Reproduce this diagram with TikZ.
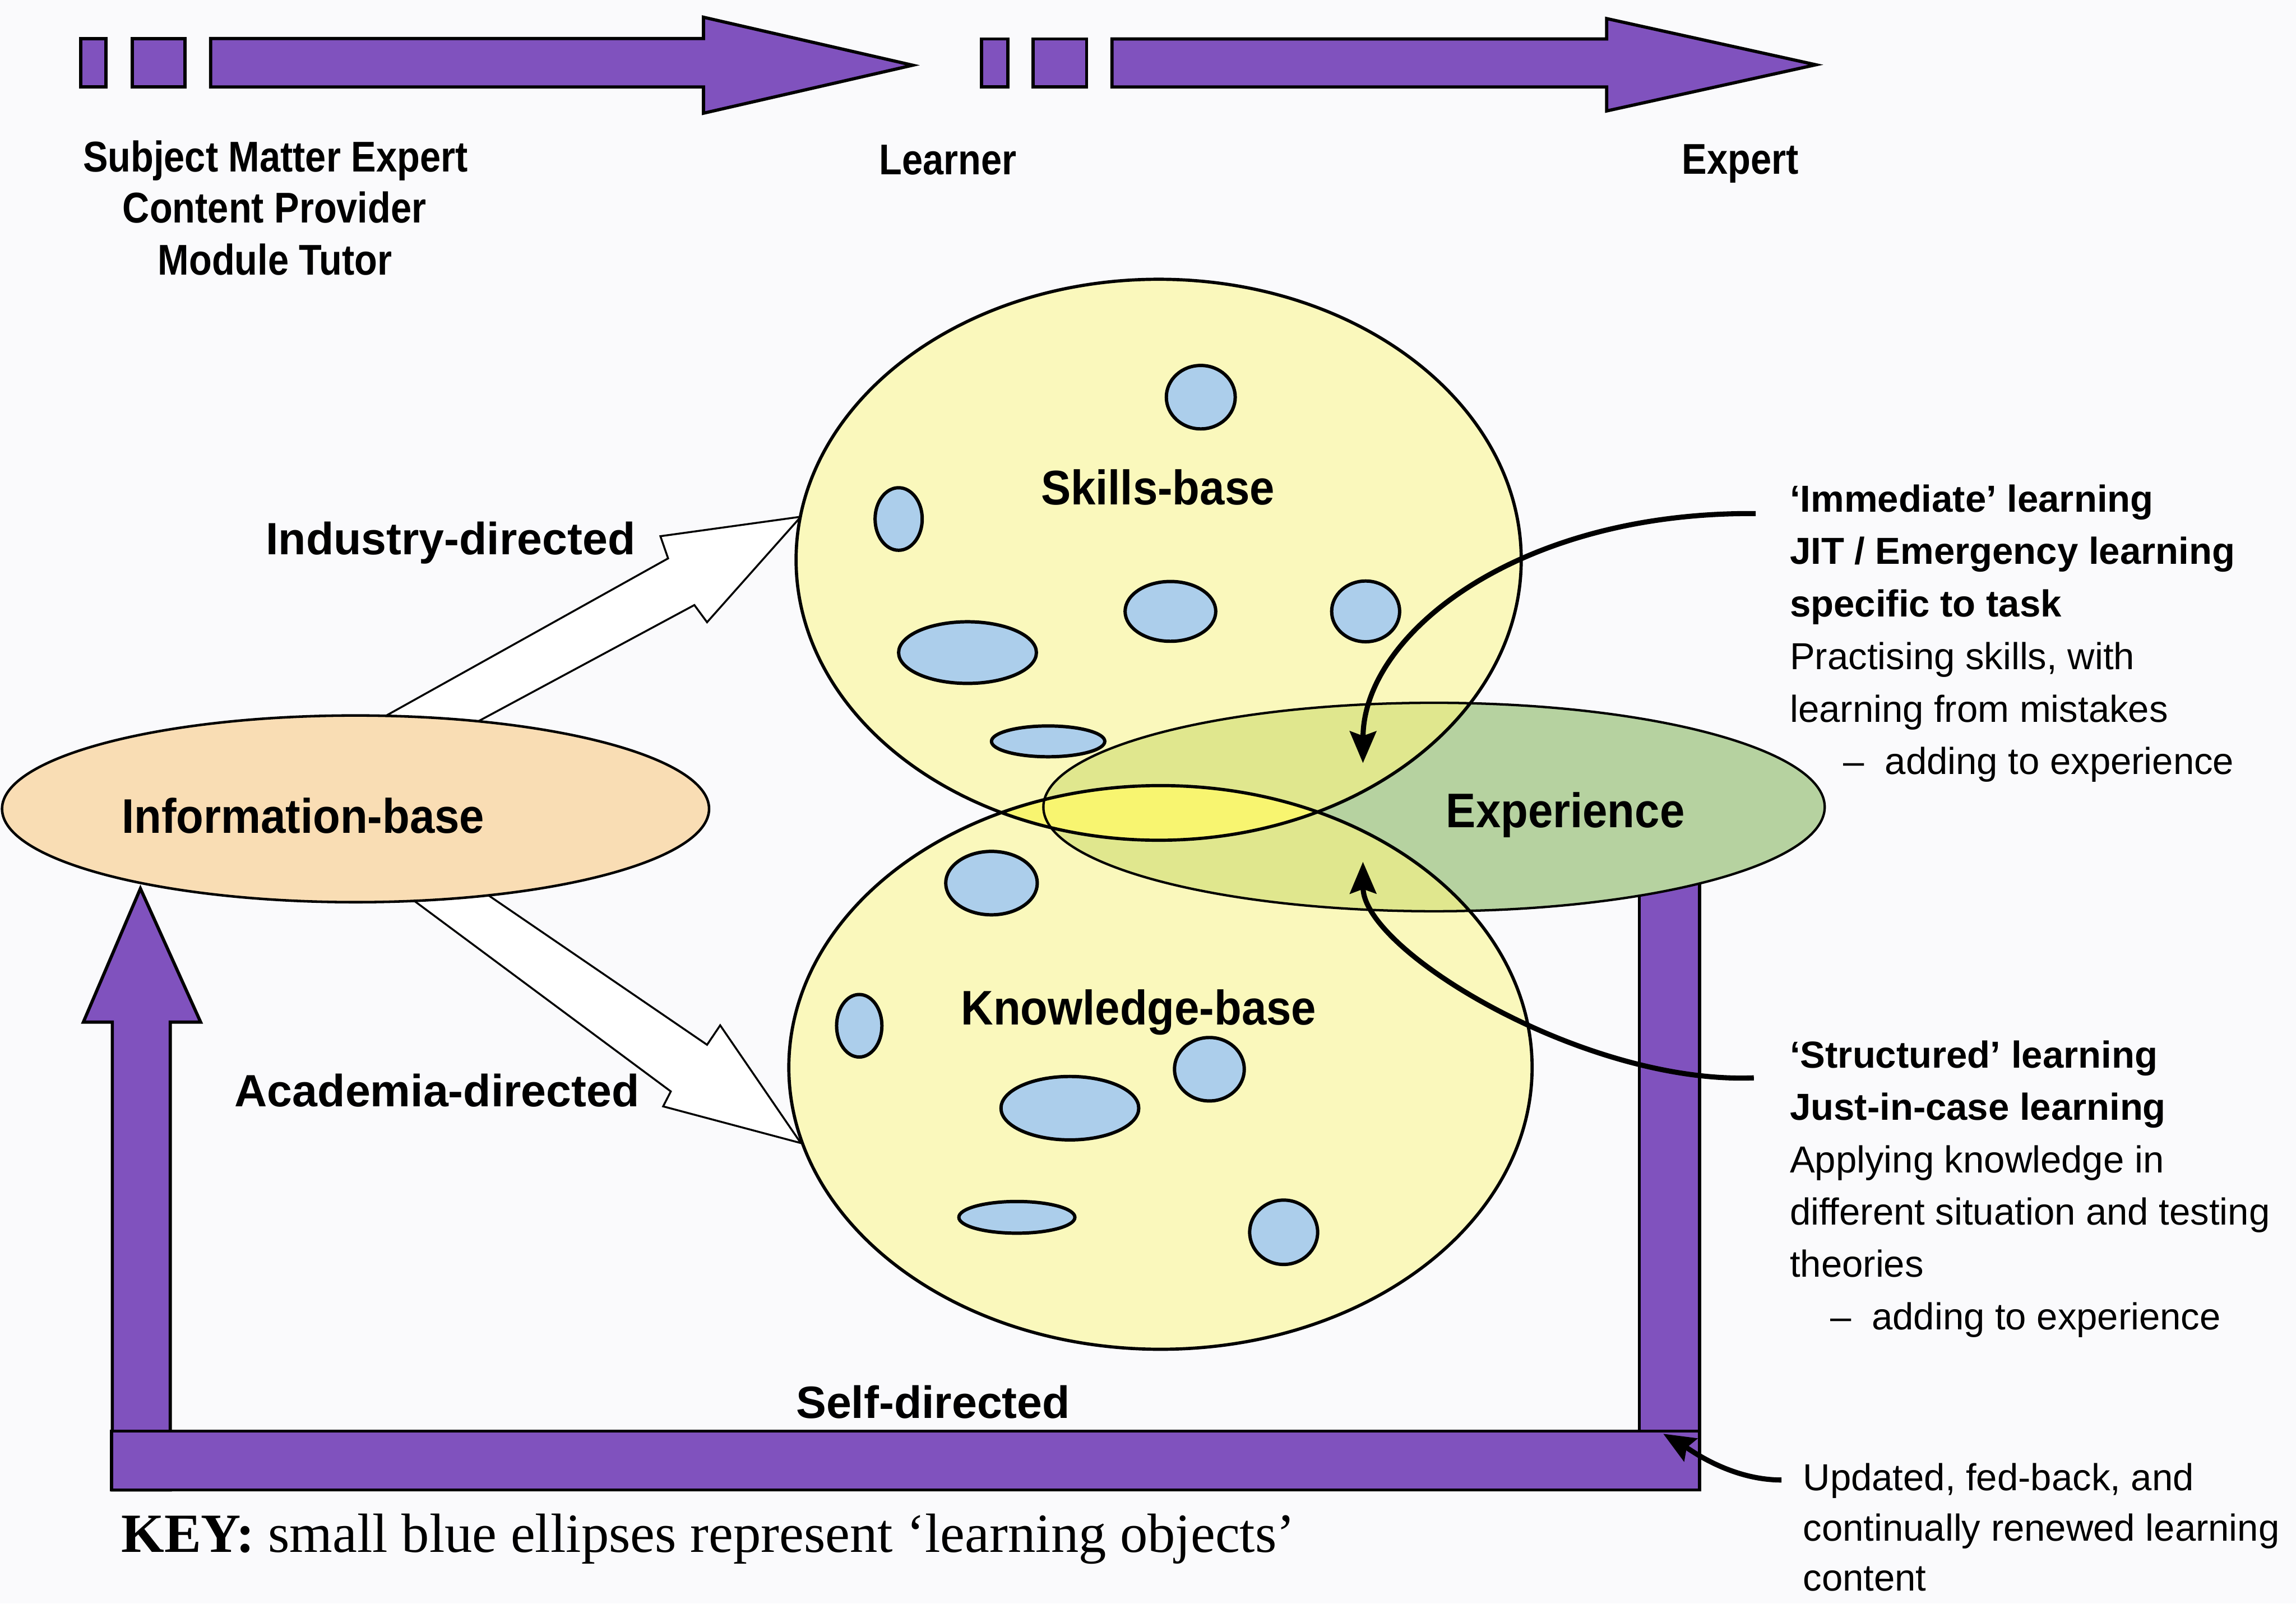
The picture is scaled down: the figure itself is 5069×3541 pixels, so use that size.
\documentclass[tikz,border=0pt]{standalone}
\usepackage{fontspec}
\setmainfont{Liberation Sans}
\newfontfamily\labelfont[FakeStretch=0.92]{Liberation Sans}
\newfontfamily\rolefont[FakeStretch=0.87]{Liberation Sans}
\newfontfamily\keyfont{Liberation Serif}
\usetikzlibrary{shapes.geometric,arrows.meta}

\definecolor{paper}{RGB}{250,250,252}
\definecolor{bandpurple}{RGB}{128,82,190}
\definecolor{paleyellow}{RGB}{250,248,188}
\definecolor{yellowgreen}{RGB}{224,231,142}
\definecolor{lensyellow}{RGB}{248,245,112}
\definecolor{expgreen}{RGB}{182,210,160}
\definecolor{peach}{RGB}{249,221,180}
\definecolor{objblue}{RGB}{172,206,235}

\begin{document}
\begin{tikzpicture}[x=0.01cm,y=-0.01cm,
  purpleshape/.style={fill=bandpurple, draw=black, line width=2pt, line join=miter},
  blockarrow/.style={fill=white, draw=black, line width=1.2pt, line join=miter},
  lobj/.style={fill=objblue, draw=black, line width=2.1pt},
  bigoval/.style={ellipse, inner sep=0pt, outer sep=0pt},
  curvearrow/.style={line width=3.2pt, -{Stealth[length=0.7cm, width=0.58cm, inset=0.1cm]}},
  biglabel/.style={font=\labelfont\bfseries\fontsize{30.5}{36}\selectfont, anchor=base, inner sep=0pt},
  rolelabel/.style={font=\rolefont\bfseries\fontsize{27}{32}\selectfont, anchor=base, inner sep=0pt},
  dirlabel/.style={font=\bfseries\fontsize{28.4}{33}\selectfont, anchor=base, inner sep=0pt},
  notebold/.style={font=\bfseries\fontsize{23.6}{28}\selectfont, anchor=base west, inner sep=0pt},
  noteplain/.style={font=\fontsize{23.6}{28}\selectfont, anchor=base west, inner sep=0pt}]

\useasboundingbox (0,0) rectangle (5069,3541);
\fill[paper] (0,0) rectangle (5069,3541);

% ---- role progression arrows along the top ----
\draw[purpleshape] (178,85) rectangle (234,192);
\draw[purpleshape] (292,85) rectangle (408,192);
\draw[purpleshape] (465,85) -- (1553,85) -- (1553,38) -- (2015,144) -- (1553,250) -- (1553,192) -- (465,192) -- cycle;
\draw[purpleshape] (2167,86) rectangle (2225,192);
\draw[purpleshape] (2281,86) rectangle (2399,192);
\draw[purpleshape] (2455,86) -- (3547,86) -- (3547,41) -- (4009,143) -- (3547,245) -- (3547,192) -- (2455,192) -- cycle;

\node[rolelabel] (sme)     at (608,379)  {Subject Matter Expert};
\node[rolelabel] (provider) at (606,492) {Content Provider};
\node[rolelabel] (tutor)   at (607,607)  {Module Tutor};
\node[rolelabel] (learner) at (2093,386) {Learner};
\node[rolelabel] (expert)  at (3842,384) {Expert};

% ---- self-directed feedback loop ----
\draw[purpleshape] (248,3290) -- (248,2257) -- (184,2257) -- (310,1962) -- (443,2257) -- (376,2257) -- (376,3290) -- cycle;
\draw[purpleshape] (3619,1900) rectangle (3752,3290);
\draw[purpleshape] (246,3160) rectangle (3752,3290);

% ---- open block arrows from the information-base ----
\draw[blockarrow] (826,1595) -- (1475,1233) -- (1458,1184) -- (1768,1141) -- (1561,1374) -- (1533,1336) -- (1033,1605) -- cycle;
\draw[blockarrow] (1052,1959) -- (1561,2307) -- (1590,2264) -- (1768,2524) -- (1464,2443) -- (1481,2410) -- (886,1968) -- cycle;

% ---- region fills ----
\fill[expgreen] (3166,1782) ellipse [x radius=8.62cm, y radius=2.30cm];
\fill[paleyellow] (2558,1236) ellipse [x radius=8.00cm, y radius=6.19cm];
\fill[paleyellow] (2562,2357) ellipse [x radius=8.20cm, y radius=6.22cm];
\begin{scope}
  \clip (3166,1782) ellipse [x radius=8.62cm, y radius=2.30cm];
  \fill[yellowgreen] (2558,1236) ellipse [x radius=8.00cm, y radius=6.19cm];
  \fill[yellowgreen] (2562,2357) ellipse [x radius=8.20cm, y radius=6.22cm];
\end{scope}
\begin{scope}
  \clip (2558,1236) ellipse [x radius=8.00cm, y radius=6.19cm];
  \fill[lensyellow] (2562,2357) ellipse [x radius=8.20cm, y radius=6.22cm];
\end{scope}

% ---- outlines of the main bases ----
\node[bigoval, draw=black, line width=1.5pt, minimum width=17.24cm, minimum height=4.60cm] (experience) at (3166,1782) {};
\node[bigoval, draw=black, line width=2pt, minimum width=16.00cm, minimum height=12.38cm] (skills) at (2558,1236) {};
\node[bigoval, draw=black, line width=2pt, minimum width=16.40cm, minimum height=12.44cm] (knowledge) at (2562,2357) {};
\node[bigoval, draw=black, fill=peach, line width=1.6pt, minimum width=15.60cm, minimum height=4.12cm] (info) at (785,1786) {};

% ---- learning objects ----
\draw[lobj] (2651,877)  ellipse [x radius=0.76cm, y radius=0.70cm];
\draw[lobj] (1984,1146) ellipse [x radius=0.52cm, y radius=0.69cm];
\draw[lobj] (2584,1350) ellipse [x radius=1.00cm, y radius=0.66cm];
\draw[lobj] (3015,1350) ellipse [x radius=0.75cm, y radius=0.67cm];
\draw[lobj] (2136,1441) ellipse [x radius=1.52cm, y radius=0.68cm];
\draw[lobj] (2314,1637) ellipse [x radius=1.25cm, y radius=0.34cm];
\draw[lobj] (2189,1950) ellipse [x radius=1.01cm, y radius=0.70cm];
\draw[lobj] (1897,2265) ellipse [x radius=0.50cm, y radius=0.69cm];
\draw[lobj] (2670,2361) ellipse [x radius=0.77cm, y radius=0.70cm];
\draw[lobj] (2362,2447) ellipse [x radius=1.52cm, y radius=0.70cm];
\draw[lobj] (2245,2688) ellipse [x radius=1.28cm, y radius=0.35cm];
\draw[lobj] (2834,2721) ellipse [x radius=0.75cm, y radius=0.71cm];

% ---- base labels ----
\node[biglabel] (skillslabel) at (2556,1114) {Skills-base};
\node[biglabel] (knowlabel)   at (2514,2263) {Knowledge-base};
\node[biglabel] (explabel)    at (3456,1827) {Experience};
\node[biglabel] (infolabel)   at (669,1840)  {Information-base};

\node[dirlabel] (industry) at (995,1225) {Industry-directed};
\node[dirlabel] (academia) at (965,2443) {Academia-directed};
\node[dirlabel] (selfdir)  at (2060,3131) {Self-directed};

% ---- side notes ----
\node[notebold]  (imm1) at (3951,1130) {‘Immediate’ learning};
\node[notebold]  (imm2) at (3951,1246) {JIT / Emergency learning};
\node[notebold]  (imm3) at (3951,1362) {specific to task};
\node[noteplain] (imm4) at (3951,1478) {Practising skills, with};
\node[noteplain] (imm5) at (3951,1594) {learning from mistakes};
\node[noteplain] (imm6) at (4069,1710) {–\hspace{0.55em}adding to experience};

\node[notebold]  (str1) at (3951,2358) {‘Structured’ learning};
\node[notebold]  (str2) at (3951,2473) {Just-in-case learning};
\node[noteplain] (str3) at (3951,2589) {Applying knowledge in};
\node[noteplain] (str4) at (3951,2704) {different situation and testing};
\node[noteplain] (str5) at (3951,2820) {theories};
\node[noteplain] (str6) at (4040,2936) {–\hspace{0.55em}adding to experience};

\node[noteplain] (upd1) at (3980,3291) {Updated, fed-back, and};
\node[noteplain] (upd2) at (3980,3402) {continually renewed learning};
\node[noteplain] (upd3) at (3980,3513) {content};

\node[anchor=base west, inner sep=0pt, font=\keyfont\fontsize{34.7}{40}\selectfont] (key) at (267,3427)
  {\textbf{KEY:} small blue ellipses represent ‘learning objects’};

% ---- pointers from the notes ----
\coordinate (immstart) at (3876,1134);
\coordinate (immend)   at (3009,1685);
\coordinate (strstart) at (3872,2380);
\coordinate (strend)   at (3009,1903);
\coordinate (updstart) at (3933,3268);
\coordinate (updend)   at (3672,3166);

\draw[curvearrow] (immstart) .. controls (3350,1130) and (3010,1400) .. (immend);
\draw[curvearrow] (strstart) .. controls (3500,2395) and (3010,2100) .. (strend);
\draw[curvearrow] (updstart) .. controls (3820,3268) and (3730,3200) .. (updend);

\end{tikzpicture}
\end{document}
